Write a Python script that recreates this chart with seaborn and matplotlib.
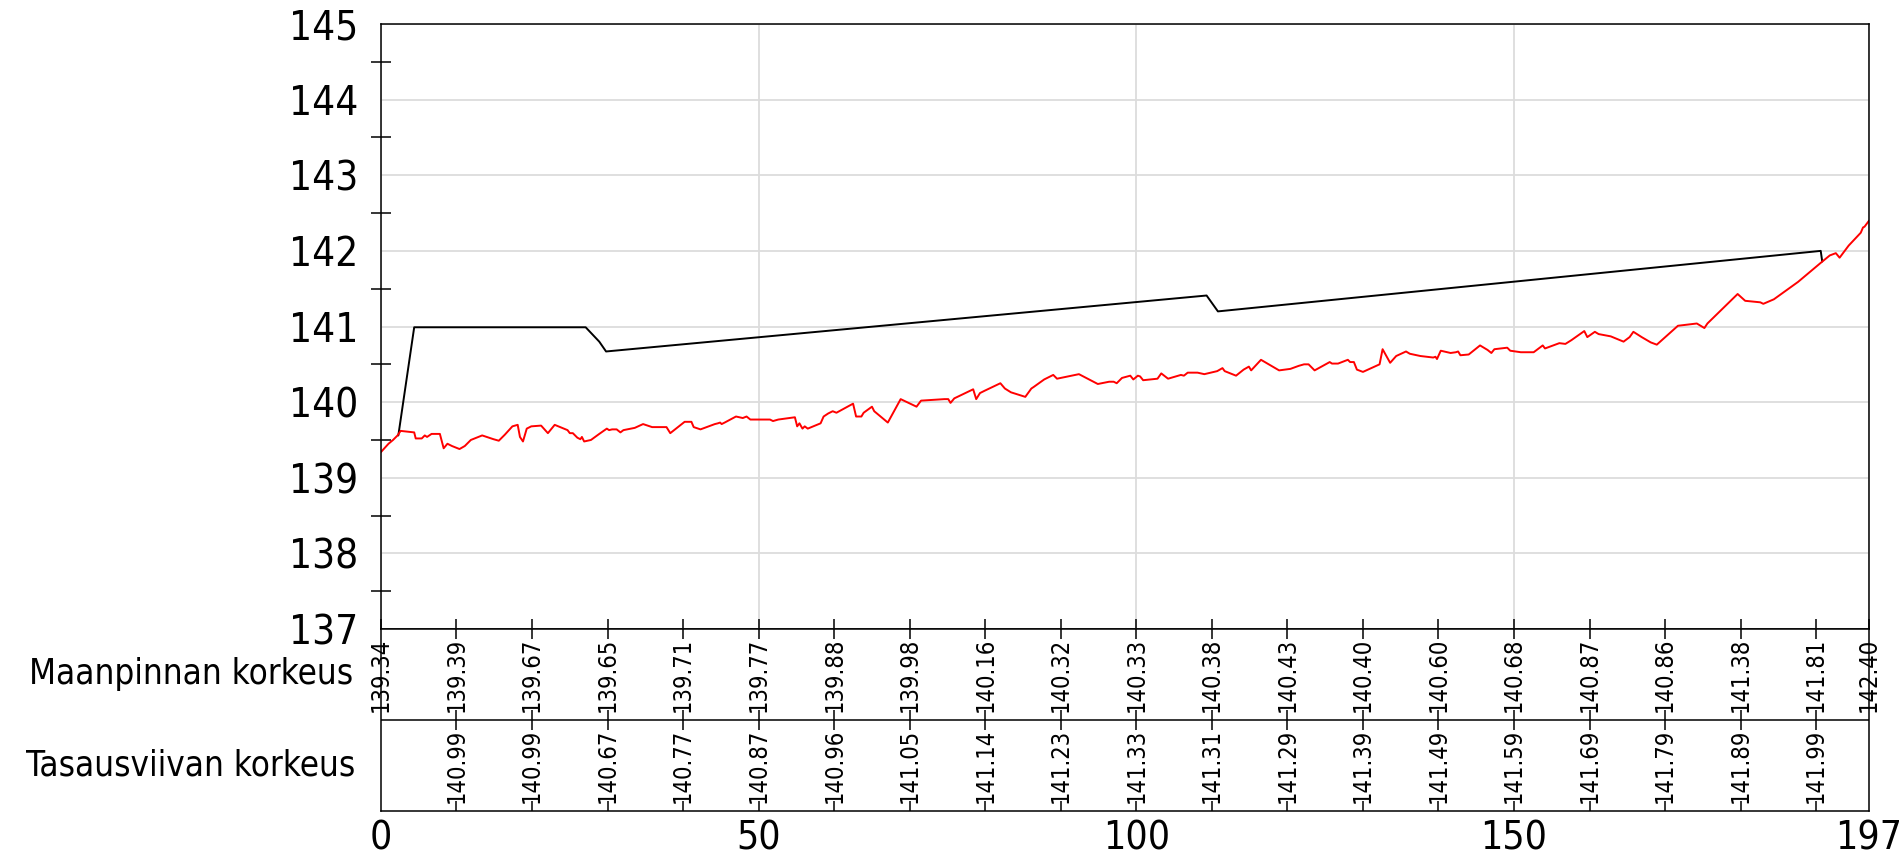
import numpy as np
import matplotlib
matplotlib.use("Agg")
import matplotlib.pyplot as plt
import seaborn as sns

# Maanpinta (ground profile)
ground_x = [0, 1.0, 1.6, 2.2, 2.6, 4.4, 4.6, 5.4, 5.8, 6.1, 6.7, 7.8, 8.3, 8.8, 9.4,
            10.4, 11.1, 11.9, 13.4, 14.9, 15.6, 16.4, 17.4, 18.1, 18.4, 18.8, 19.3, 19.9,
            21.2, 22.1, 23.0, 24.7, 25.0, 25.4, 26.0, 26.4, 26.6, 26.9, 27.8, 28.9, 29.9,
            30.2, 30.6, 31.2, 31.7, 32.1, 33.6, 34.7, 35.9, 37.8, 38.3, 40.2, 41.1, 41.4,
            42.3, 44.2, 44.6, 44.9, 45.1, 45.5, 47.0, 47.9, 48.4, 48.9, 51.5, 51.9, 52.6,
            54.8, 55.1, 55.4, 55.8, 56.1, 56.5, 58.2, 58.6, 59.2, 59.8, 60.3, 62.5, 62.9,
            63.6, 63.9, 65.0, 65.3, 67.1, 68.8, 70.9, 71.5, 74.6, 75.1, 75.4, 75.9, 78.4,
            78.8, 79.3, 79.9, 82.0, 82.6, 83.4, 85.3, 86.1, 86.4, 87.8, 89.0, 89.5, 92.4,
            94.9, 96.4, 97.0, 97.4, 98.1, 99.2, 99.6, 100.2, 100.5, 100.9, 102.8, 103.3,
            104.2, 105.9, 106.3, 106.8, 108.1, 109.0, 110.7, 111.4, 111.7, 113.2, 114.2,
            114.9, 115.2, 116.5, 118.9, 120.4, 121.5, 122.2, 122.8, 123.6, 125.6, 125.9,
            126.7, 128.0, 128.3, 128.8, 129.2, 130.0, 132.2, 132.6, 133.6, 134.4, 135.7,
            136.2, 137.6, 139.3, 139.6, 139.8, 140.3, 141.6, 142.3, 142.6, 142.9, 144.0,
            145.5, 146.5, 147.0, 147.4, 149.1, 149.5, 150.9, 152.6, 153.8, 154.1, 156.0,
            156.8, 157.6, 159.3, 159.7, 160.7, 161.2, 162.8, 164.5, 165.3, 165.8, 166.9,
            168.1, 168.9, 171.7, 174.2, 175.2, 175.6, 179.6, 180.6, 182.6, 183.0, 184.4,
            187.6, 190.7, 191.8, 192.6, 193.1, 194.3, 195.9, 196.2, 196.4, 197.0]
ground_z = [139.34, 139.45, 139.50, 139.56, 139.62, 139.60, 139.52, 139.52, 139.56, 139.54,
            139.58, 139.58, 139.39, 139.45, 139.42, 139.38, 139.42, 139.50, 139.56, 139.51,
            139.49, 139.57, 139.68, 139.70, 139.54, 139.48, 139.65, 139.68, 139.69, 139.59,
            139.70, 139.63, 139.59, 139.59, 139.53, 139.51, 139.54, 139.48, 139.50, 139.58,
            139.65, 139.63, 139.64, 139.64, 139.60, 139.63, 139.66, 139.71, 139.67, 139.67,
            139.59, 139.74, 139.74, 139.67, 139.64, 139.71, 139.72, 139.73, 139.71, 139.73,
            139.81, 139.79, 139.81, 139.77, 139.77, 139.75, 139.77, 139.80, 139.68, 139.72,
            139.65, 139.68, 139.65, 139.72, 139.81, 139.85, 139.88, 139.86, 139.98, 139.81,
            139.81, 139.86, 139.94, 139.88, 139.73, 140.04, 139.94, 140.02, 140.04, 140.04,
            139.99, 140.05, 140.17, 140.04, 140.12, 140.15, 140.25, 140.18, 140.13, 140.07,
            140.18, 140.20, 140.30, 140.36, 140.31, 140.37, 140.24, 140.27, 140.27, 140.25,
            140.32, 140.35, 140.30, 140.35, 140.34, 140.29, 140.31, 140.38, 140.31, 140.36,
            140.35, 140.39, 140.39, 140.37, 140.41, 140.45, 140.41, 140.35, 140.43, 140.47,
            140.42, 140.56, 140.42, 140.44, 140.48, 140.50, 140.50, 140.42, 140.53, 140.51,
            140.51, 140.56, 140.53, 140.53, 140.43, 140.40, 140.50, 140.70, 140.52, 140.61,
            140.67, 140.64, 140.61, 140.59, 140.60, 140.57, 140.68, 140.65, 140.66, 140.67,
            140.62, 140.63, 140.75, 140.69, 140.65, 140.70, 140.72, 140.68, 140.66, 140.66,
            140.75, 140.71, 140.78, 140.77, 140.82, 140.94, 140.86, 140.93, 140.90, 140.87,
            140.80, 140.86, 140.93, 140.86, 140.79, 140.76, 141.01, 141.04, 140.98, 141.04,
            141.43, 141.34, 141.32, 141.30, 141.36, 141.59, 141.85, 141.94, 141.97, 141.91,
            142.07, 142.24, 142.31, 142.32, 142.40]

# Tasausviiva (grade line)
grade_x = [2.3, 4.4, 27.1, 28.9, 29.8, 109.3, 110.8, 190.6, 190.8]
grade_z = [139.56, 140.99, 140.99, 140.80, 140.67, 141.41, 141.20, 142.00, 141.86]

# table rows
stations = [0, 10, 20, 30, 40, 50, 60, 70, 80, 90, 100, 110, 120, 130, 140, 150,
            160, 170, 180, 190, 197]
ground_labels = ["139.34", "139.39", "139.67", "139.65", "139.71", "139.77", "139.88",
                 "139.98", "140.16", "140.32", "140.33", "140.38", "140.43", "140.40",
                 "140.60", "140.68", "140.87", "140.86", "141.38", "141.81", "142.40"]
grade_stations = stations[1:-1]
grade_labels = ["140.99", "140.99", "140.67", "140.77", "140.87", "140.96", "141.05",
                "141.14", "141.23", "141.33", "141.31", "141.29", "141.39", "141.49",
                "141.59", "141.69", "141.79", "141.89", "141.99"]
row_titles = ["Maanpinnan korkeus", "Tasausviivan korkeus"]
x_labels = [0, 50, 100, 150, 197]

sns.set_style("white")
plt.rcParams["font.family"] = ["DejaVu Sans"]
plt.rcParams["font.stretch"] = "condensed"
plt.rcParams["text.color"] = "black"
plt.rcParams["xtick.color"] = "black"
plt.rcParams["ytick.color"] = "black"

fig = plt.figure(figsize=(19.01, 8.57), dpi=100)
ax = fig.add_axes([0.2004, 0.2660, 0.7828, 0.7060])
axt = fig.add_axes([0.2004, 0.0537, 0.7828, 0.2124], sharex=ax)

sns.lineplot(x=grade_x, y=grade_z, ax=ax, color="black", lw=1.4, estimator=None, sort=False)
sns.lineplot(x=ground_x, y=ground_z, ax=ax, color="#ff0000", lw=1.4, estimator=None, sort=False)

ax.set_xlim(0, 197)
ax.set_ylim(137, 145)
ax.set_yticks(np.arange(137, 146, 1))
ax.set_yticks(np.arange(137.5, 145, 1), minor=True)
ax.set_xticks(x_labels)
ax.set_xticks([s for s in stations if s not in x_labels], minor=True)
ax.grid(which="major", color="#dcdcdc", lw=1.3)
ax.tick_params(axis="y", which="major", direction="out", length=7.2, width=1.1,
               labelsize=29, pad=9)
ax.tick_params(axis="y", which="minor", direction="inout", length=14.4, width=1.1, left=True)
ax.tick_params(axis="x", which="both", direction="in", length=7.2, width=1.1,
               bottom=True, labelbottom=False)
for sp in ax.spines.values():
    sp.set_color("black")
    sp.set_linewidth(1.1)
ax.set_xlabel("")
ax.set_ylabel("")

# table under the profile
axt.set_ylim(0, 2)
axt.set_yticks([])
axt.axhline(1, color="black", lw=1.1)
for sp in axt.spines.values():
    sp.set_color("black")
    sp.set_linewidth(1.1)
axt.tick_params(axis="x", which="both", length=0, labelsize=28, pad=6)
axt.tick_params(axis="x", which="minor", labelbottom=False)
axt.set_xticks(x_labels)
axt.set_xticklabels([str(v) for v in x_labels])
axt.vlines(grade_stations, 1.89, 2.0, color="black", lw=1.1)
axt.vlines(grade_stations, 0.89, 1.11, color="black", lw=1.1)
axt.vlines(grade_stations, 0.0, 0.11, color="black", lw=1.1)

for s, t in zip(stations, ground_labels):
    axt.text(s, 1.5, t, rotation=90, ha="center", va="center", fontsize=17, clip_on=False)
for s, t in zip(grade_stations, grade_labels):
    axt.text(s, 0.5, t, rotation=90, ha="center", va="center", fontsize=17)

fig.text(0.1005, 1 - 674 / 857, row_titles[0], ha="center", va="center", fontsize=25)
fig.text(0.1005, 1 - 766 / 857, row_titles[1], ha="center", va="center", fontsize=25)

fig.savefig("out.png", dpi=100, facecolor="white")
